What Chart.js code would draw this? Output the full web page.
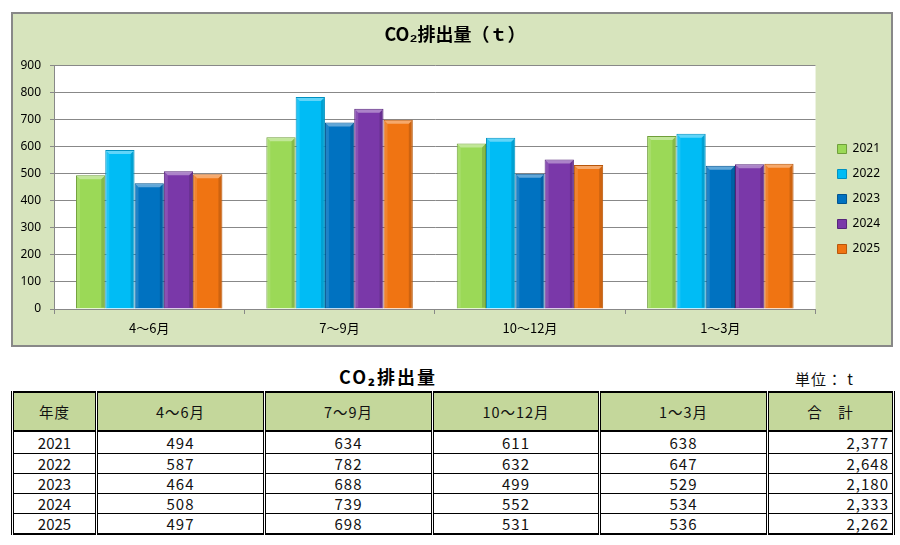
<!DOCTYPE html>
<html>
<head>
<meta charset="utf-8">
<script src="https://cdn.jsdelivr.net/npm/chart.js@4.4.1/dist/chart.umd.min.js"></script>
<style>
  html, body { margin: 0; padding: 0; background: #ffffff; }
  body { width: 900px; height: 545px; position: relative; overflow: hidden; font-family: "Noto Sans CJK JP", "Noto Sans", sans-serif; }
  #box { position: absolute; left: 11px; top: 12px; width: 882px; height: 335px; box-sizing: border-box; border: 2px solid #888888; background: #d7e4bd; }
  #wrap { position: absolute; left: 0; top: 0; width: 878px; height: 331px; }
  #ttl { position: absolute; left: 268px; top: 365px; width: 240px; text-align: center; font-size: 18px; font-weight: bold; line-height: 22px; letter-spacing: 2px; color: #000; }
  #unit { position: absolute; left: 795px; top: 369px; font-size: 15px; line-height: 20px; letter-spacing: 1px; color: #111; white-space: pre; }
  #tbl { position: absolute; left: 11px; top: 391px; width: 881px; border-collapse: collapse; table-layout: fixed; border: 2px solid #000; color: #111; }
  #tbl th, #tbl td { border-left: 3px double #000; border-right: 3px double #000; padding: 0; overflow: hidden; white-space: nowrap; }
  #tbl th { background: #c4d79b; font-weight: normal; font-size: 14.5px; height: 37px; border-bottom: 2px solid #000; letter-spacing: 1px; }
  #tbl td { font-size: 15px; line-height: 18px; height: 19px; border-bottom: 1px solid #000; text-align: center; letter-spacing: 1px; }
  #tbl tr.first td { height: 21px; }
  #tbl td.yr { letter-spacing: 0; }
  #tbl td.tot { text-align: right; padding-right: 3px; }
</style>
</head>
<body>
<div id="box"><div id="wrap"><canvas id="c"></canvas></div></div>
<div id="ttl">CO₂排出量</div>
<div id="unit">単位： t</div>
<table id="tbl">
  <colgroup>
    <col style="width:84px"><col style="width:168px"><col style="width:168px"><col style="width:167px"><col style="width:168px"><col style="width:126px">
  </colgroup>
  <thead><tr id="hdr"></tr></thead>
  <tbody id="tb"></tbody>
</table>
<script>
// ---- data ----
const categories = ['4～6月', '7～9月', '10～12月', '1～3月'];
const years = ['2021', '2022', '2023', '2024', '2025'];
const v2021 = [494, 634, 611, 638];
const v2022 = [587, 782, 632, 647];
const v2023 = [464, 688, 499, 529];
const v2024 = [508, 739, 552, 534];
const v2025 = [497, 698, 531, 536];
const totals = [2377, 2648, 2180, 2333, 2262];
const tableHeaders = ['年度', '4～6月', '7～9月', '10～12月', '1～3月', '合　計'];
const chartTitle = 'CO₂排出量（ｔ）';
const yMin = 0, yMax = 900, yStep = 100;

// ---- styles ----
const fills = ['#9bd957', '#00bcf5', '#0072c1', '#7a38a9', '#f07412'];
const edges = ['#6f9e3a', '#0090c0', '#00538f', '#56257a', '#b8560a'];
const series = [v2021, v2022, v2023, v2024, v2025];

// ---- table ----
const hdr = document.getElementById('hdr');
tableHeaders.forEach(h => { const th = document.createElement('th'); th.textContent = h; hdr.appendChild(th); });
const tb = document.getElementById('tb');
years.forEach((y, i) => {
  const tr = document.createElement('tr');
  if (i === 0) tr.className = 'first';
  const td0 = document.createElement('td'); td0.className = 'yr'; td0.textContent = y; tr.appendChild(td0);
  series[i].forEach(v => { const td = document.createElement('td'); td.textContent = String(v); tr.appendChild(td); });
  const tdt = document.createElement('td'); tdt.className = 'tot'; tdt.textContent = totals[i].toLocaleString('en-US'); tr.appendChild(tdt);
  tb.appendChild(tr);
});

// ---- plugins ----
const plotBg = {
  id: 'plotBg',
  beforeDraw(chart) {
    const { ctx, chartArea: a } = chart;
    ctx.save();
    ctx.fillStyle = '#ffffff';
    ctx.fillRect(a.left, a.top, a.right - a.left, a.bottom - a.top);
    ctx.restore();
  }
};
const bevel = {
  id: 'bevel',
  afterDatasetsDraw(chart) {
    const ctx = chart.ctx;
    ctx.save();
    chart.data.datasets.forEach((ds, i) => {
      const meta = chart.getDatasetMeta(i);
      if (meta.hidden) return;
      meta.data.forEach(bar => {
        const p = bar.getProps(['x', 'y', 'base', 'width'], true);
        const l = p.x - p.width / 2, r = p.x + p.width / 2, t = p.y, b = p.base;
        const s = 4;
        ctx.fillStyle = 'rgba(255,255,255,0.38)';
        ctx.beginPath();
        ctx.moveTo(l + 1, t + 1); ctx.lineTo(r - 1, t + 1); ctx.lineTo(r - s, t + s); ctx.lineTo(l + s, t + s); ctx.closePath();
        ctx.fill();
        ctx.fillStyle = 'rgba(255,255,255,0.12)';
        ctx.beginPath();
        ctx.moveTo(l + 1, t + 1); ctx.lineTo(l + s, t + s); ctx.lineTo(l + s, b - 1); ctx.lineTo(l + 1, b - 1); ctx.closePath();
        ctx.fill();
        ctx.fillStyle = 'rgba(0,0,0,0.14)';
        ctx.beginPath();
        ctx.moveTo(r - 1, t + 1); ctx.lineTo(r - s, t + s); ctx.lineTo(r - s, b - 1); ctx.lineTo(r - 1, b - 1); ctx.closePath();
        ctx.fill();
      });
    });
    ctx.restore();
  }
};

const datasets = years.map((y, i) => ({
  label: y,
  data: series[i],
  backgroundColor: fills[i],
  borderColor: edges[i],
  borderWidth: 1,
  categoryPercentage: 1 / 1.3,
  barPercentage: 1.0
}));

new Chart(document.getElementById('c'), {
  type: 'bar',
  data: { labels: categories, datasets },
  plugins: [plotBg, bevel],
  options: {
    responsive: true,
    maintainAspectRatio: false,
    animation: false,
    layout: { padding: { left: 7, right: 1, top: 0, bottom: 9 } },
    plugins: {
      title: {
        display: true,
        text: chartTitle,
        color: '#000',
        font: { family: '"Noto Sans CJK JP", sans-serif', size: 18, weight: 'bold' },
        padding: { top: 9.5, bottom: 20 }
      },
      legend: {
        display: true,
        position: 'right',
        title: { display: true, text: ' ', font: { size: 10 }, padding: 18 },
        labels: {
          boxWidth: 9, boxHeight: 9, padding: 13,
          color: '#000',
          font: { family: '"Noto Sans", sans-serif', size: 12 }
        }
      },
      tooltip: { enabled: false }
    },
    scales: {
      x: {
        grid: { drawOnChartArea: false, drawTicks: true, tickLength: 5, color: '#888888', offset: true },
        border: { display: true, color: '#888888', width: 1 },
        ticks: { color: '#000', padding: 6, font: { family: '"Noto Sans CJK JP", sans-serif', size: 13 } },
        afterFit(s) { s.height = 27; }
      },
      y: {
        min: yMin, max: yMax,
        grid: { color: '#888888', tickLength: 4, lineWidth: 1 },
        border: { display: true, color: '#888888', width: 1 },
        ticks: { stepSize: yStep, color: '#000', padding: 9, font: { family: '"Noto Sans", sans-serif', size: 12 } },
        afterFit(s) { s.width = 34; }
      },
      gap: {
        type: 'linear', position: 'right', display: true,
        grid: { display: false, drawTicks: false }, border: { display: false },
        ticks: { display: false },
        afterFit(s) { s.width = 9; }
      }
    }
  }
});
</script>
</body>
</html>
